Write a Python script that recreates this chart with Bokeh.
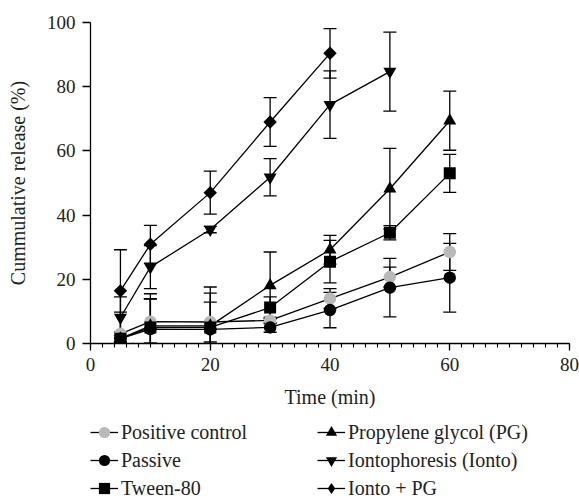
import numpy as np
from bokeh.plotting import figure
from bokeh.layouts import column
from bokeh.models import (Whisker, TeeHead, ColumnDataSource, FixedTicker,
                          Legend, LegendItem, Range1d)
from bokeh.embed import file_html
from bokeh.resources import INLINE

# ---- data ----
time_all = [5, 10, 20, 30, 40, 50, 60]
time_ionto = [5, 10, 20, 30, 40, 50]
time_ionto_pg = [5, 10, 20, 30, 40]

pos_ctrl = [3.0, 6.8, 6.7, 7.2, 14.0, 20.7, 28.5]
pos_ctrl_err = [6.8, 7.0, 6.2, 1.0, 3.1, 3.1, 5.7]
passive = [1.5, 4.5, 4.4, 5.0, 10.4, 17.4, 20.5]
passive_err = [1.0, 9.5, 13.2, 1.5, 5.5, 9.1, 10.7]
tween = [1.5, 5.0, 5.0, 11.2, 25.5, 34.5, 53.0]
tween_err = [1.0, 9.0, 10.7, 3.3, 6.6, 2.2, 5.9]
pg = [1.5, 5.5, 5.5, 18.1, 29.2, 48.2, 69.4]
pg_err = [1.0, 10.0, 1.0, 10.4, 4.5, 12.6, 9.2]
ionto = [8.1, 23.8, 35.5, 51.8, 74.4, 84.7]
ionto_err = [6.4, 6.7, 1.0, 5.8, 10.5, 12.3]
ionto_pg = [16.4, 30.9, 47.0, 69.0, 90.4]
ionto_pg_err = [12.8, 5.9, 6.7, 7.6, 7.7]

labels = ["Positive control", "Passive", "Tween-80",
          "Propylene glycol (PG)", "Iontophoresis (Ionto)", "Ionto + PG"]
x_ticks = [0, 20, 40, 60, 80]
y_ticks = [0, 20, 40, 60, 80, 100]

FONT = "Liberation Serif"

# name, x, y, err, marker (plot), marker (legend), color, size, angle
series = [
    (labels[0], time_all, pos_ctrl, pos_ctrl_err, "circle", "circle", "#b9b9b9", 12.5, 0.0),
    (labels[1], time_all, passive, passive_err, "circle", "circle", "black", 12.5, 0.0),
    (labels[2], time_all, tween, tween_err, "square", "square", "black", 12, 0.0),
    (labels[3], time_all, pg, pg_err, "triangle", "triangle", "black", 13, 0.0),
    (labels[4], time_ionto, ionto, ionto_err, "inverted_triangle", "inverted_triangle", "black", 13, 0.0),
    (labels[5], time_ionto_pg, ionto_pg, ionto_pg_err, "square", "diamond", "black", 9.5, np.pi / 4),
]

# ---------------- main plot ----------------
p = figure(width=579, height=418, x_range=Range1d(0, 80), y_range=Range1d(0, 100),
           output_backend="svg", toolbar_location=None,
           min_border_left=88, min_border_right=10, min_border_top=22,
           min_border_bottom=75)
p.grid.visible = False
p.outline_line_color = None
p.background_fill_color = "white"
p.border_fill_color = "white"

for name, xs, ys, errs, marker, lmarker, color, size, angle in series:
    p.line(xs, ys, line_color="black", line_width=1.3)

for name, xs, ys, errs, marker, lmarker, color, size, angle in series:
    y = np.array(ys)
    e = np.array(errs)
    src = ColumnDataSource(dict(x=xs, upper=y + e, lower=np.maximum(y - e, 0)))
    w = Whisker(base="x", upper="upper", lower="lower", source=src,
                line_color="black", line_width=1.3,
                upper_head=TeeHead(size=13, line_color="black", line_width=1.3),
                lower_head=TeeHead(size=13, line_color="black", line_width=1.3))
    p.add_layout(w)

for name, xs, ys, errs, marker, lmarker, color, size, angle in series:
    p.scatter(xs, ys, marker=marker, size=size, angle=angle,
              fill_color=color, line_color=color, line_width=0)

for ax in (p.xaxis[0], p.yaxis[0]):
    ax.axis_line_color = "black"
    ax.axis_line_width = 1.3
    ax.major_tick_line_color = "black"
    ax.major_tick_line_width = 1.3
    ax.major_tick_in = 0
    ax.major_label_text_font = FONT
    ax.major_label_text_font_size = "19px"
    ax.major_label_text_color = "#222222"
    ax.axis_label_text_font = FONT
    ax.axis_label_text_font_size = "20px"
    ax.axis_label_text_font_style = "normal"
    ax.axis_label_text_color = "#222222"

p.xaxis.ticker = FixedTicker(ticks=x_ticks, minor_ticks=list(range(0, 81, 2)))
p.xaxis.major_tick_out = 7
p.xaxis.minor_tick_line_color = "black"
p.xaxis.minor_tick_line_width = 1.1
p.xaxis.minor_tick_out = 4
p.xaxis.minor_tick_in = 0
p.xaxis.major_label_standoff = 7
p.xaxis.axis_label = "Time (min)"
p.xaxis.axis_label_standoff = 12

p.yaxis.ticker = FixedTicker(ticks=y_ticks)
p.yaxis.major_tick_out = 8
p.yaxis.minor_tick_line_color = None
p.yaxis.major_label_standoff = 7
p.yaxis.axis_label = "Cummulative release (%)"
p.yaxis.axis_label_standoff = 15

# ---------------- legend strip ----------------
# the series are drawn again here, outside this strip's visible range,
# only so that the legend can show their line + marker glyphs
lg = figure(width=579, height=81, x_range=Range1d(-2, -1), y_range=Range1d(-2, -1),
            output_backend="svg", toolbar_location=None,
            x_axis_type=None, y_axis_type=None,
            min_border_left=90, min_border_right=0, min_border_top=0,
            min_border_bottom=0)
lg.grid.visible = False
lg.outline_line_color = None
lg.background_fill_color = "white"
lg.border_fill_color = "white"

items = []
for name, xs, ys, errs, marker, lmarker, color, size, angle in series:
    lr = lg.line(xs, ys, line_color="black", line_width=1.3)
    sr = lg.scatter(xs, ys, marker=lmarker, size=size,
                    fill_color=color, line_color=color, line_width=0)
    items.append(LegendItem(label=name, renderers=[lr, sr]))

legend = Legend(items=items, location="top_left", orientation="vertical", nrows=3,
                border_line_color=None, background_fill_alpha=0,
                label_text_font=FONT, label_text_font_size="20px",
                label_text_color="#222222",
                glyph_width=28, glyph_height=28, label_height=28,
                label_standoff=3, spacing=0, padding=0, margin=0,
                label_width=196)
lg.add_layout(legend, "center")

open("out.html", "w").write(file_html(column(p, lg), INLINE))
